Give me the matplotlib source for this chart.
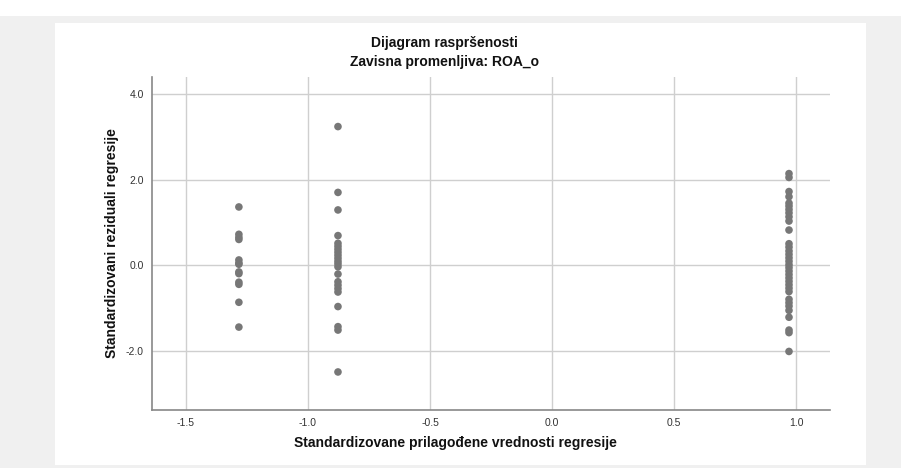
import numpy as np
import matplotlib.pyplot as plt
from matplotlib.patches import Rectangle

plt.rcParams['font.family'] = ['Liberation Sans', 'DejaVu Sans']

# standardized predicted values for the three groups
x_groups = [-1.283, -0.877, 0.971]

# standardized residuals of each group
resid_left = [1.36, 0.72, 0.65, 0.60, 0.12, 0.05, 0.02, -0.16, -0.20, -0.40, -0.45,
              -0.87, -1.45]
resid_mid = [3.24, 1.70, 1.29, 0.69, 0.51, 0.44, 0.37, 0.30, 0.23, 0.16, 0.09, 0.03,
             -0.04, -0.21, -0.39, -0.47, -0.55, -0.63, -0.97, -1.44, -1.52, -2.50]
resid_right = [2.14, 2.05, 1.72, 1.60, 1.45, 1.38, 1.30, 1.22, 1.13, 1.03, 0.82,
               0.50, 0.42, 0.33, 0.25, 0.17, 0.09, 0.01, -0.06, -0.14, -0.22, -0.30,
               -0.38, -0.46, -0.54, -0.62, -0.80, -0.88, -0.96, -1.06, -1.22,
               -1.52, -1.58, -2.02]

x_ticks = [-1.5, -1.0, -0.5, 0.0, 0.5, 1.0]
y_ticks = [-2.0, 0.0, 2.0, 4.0]

fig = plt.figure(figsize=(9.01, 4.68), dpi=100, facecolor='#f0f0f0')
# white strip on top and the white chart panel
fig.patches.append(Rectangle((0, 0.9658), 1, 0.0342, transform=fig.transFigure,
                             facecolor='white', edgecolor='none', zorder=-2))
fig.patches.append(Rectangle((0.061, 0.0064), 0.90, 0.944, transform=fig.transFigure,
                             facecolor='white', edgecolor='none', zorder=-2))

ax = fig.add_axes([0.1687, 0.1239, 0.7525, 0.7116])
ax.set_zorder(2)
ax.set_facecolor('white')

for xg, res in zip(x_groups, [resid_left, resid_mid, resid_right]):
    ax.scatter([xg] * len(res), res, s=30, color='#777777', edgecolors='none', zorder=3)

ax.set_xlim(-1.639, 1.139)
ax.set_ylim(-3.39, 4.40)
ax.set_xticks(x_ticks)
ax.set_yticks(y_ticks)
ax.set_xticklabels([f'{v:.1f}' for v in x_ticks])
ax.set_yticklabels([f'{v:.1f}' for v in y_ticks])
ax.grid(True, color='#cfcfcf', linewidth=1.0, zorder=0)
ax.set_axisbelow(True)
ax.tick_params(length=0, labelsize=7.5, labelcolor='#333333', pad=6)

for side in ['top', 'right']:
    ax.spines[side].set_visible(False)
for side in ['left', 'bottom']:
    ax.spines[side].set_color('#888888')
    ax.spines[side].set_linewidth(1.2)

fig.text(0.493, 0.908, 'Dijagram raspršenosti', ha='center', va='center',
         fontsize=10, fontweight='bold', color='#111111')
fig.text(0.493, 0.8675, 'Zavisna promenljiva: ROA_o', ha='center', va='center',
         fontsize=10, fontweight='bold', color='#111111')
fig.text(0.505, 0.053, 'Standardizovane prilagođene vrednosti regresije', ha='center',
         va='center', fontsize=10, fontweight='bold', color='#111111')
fig.text(0.124, 0.48, 'Standardizovani reziduali regresije', ha='center', va='center',
         rotation=90, fontsize=10, fontweight='bold', color='#111111')

fig.savefig('out.png', dpi=100, facecolor=fig.get_facecolor())
